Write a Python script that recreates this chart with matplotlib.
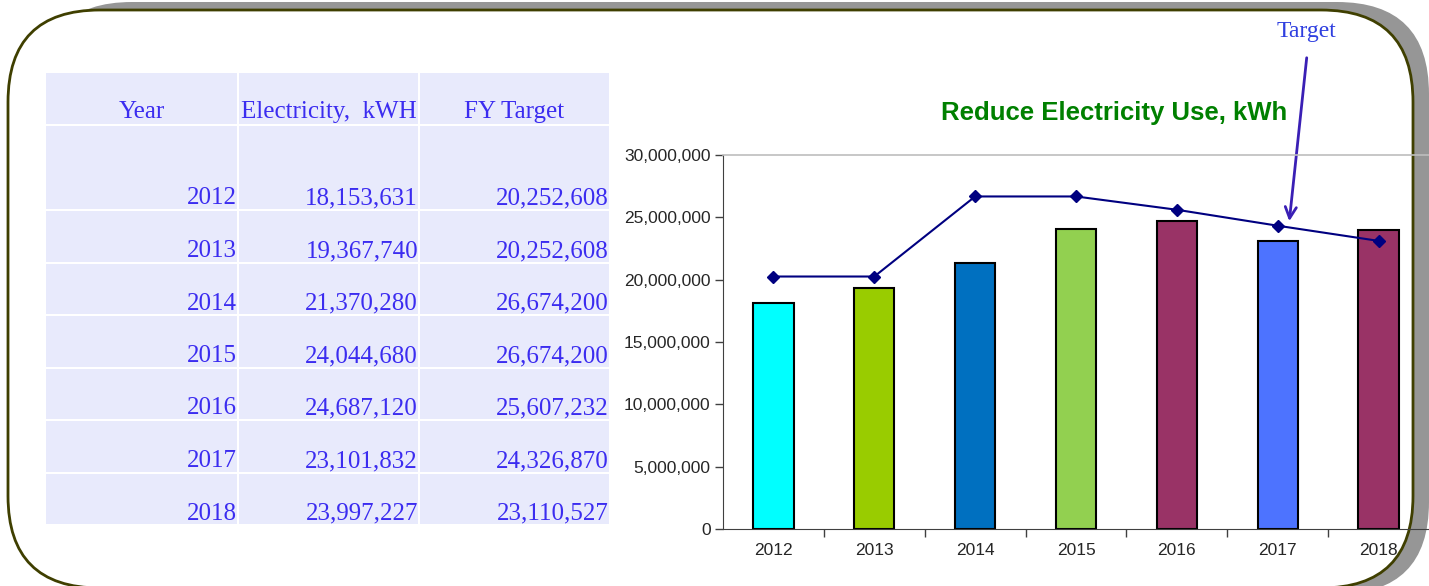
import matplotlib
matplotlib.use("Agg")
import matplotlib.pyplot as plt
from matplotlib.patches import FancyBboxPatch, Rectangle
from matplotlib.ticker import FuncFormatter, FixedLocator

# данные
years = ["2012", "2013", "2014", "2015", "2016", "2017", "2018"]
electricity = [18153631, 19367740, 21370280, 24044680, 24687120, 23101832, 23997227]
fy_target = [20252608, 20252608, 26674200, 26674200, 25607232, 24326870, 23110527]
headers = ["Year", "Electricity,  kWH", "FY Target"]
bar_colors = ["#00FFFF", "#99CC00", "#0070C0", "#92D050", "#993366", "#4D73FF", "#993366"]

W, H = 1429, 586
fig = plt.figure(figsize=(W / 100, H / 100), dpi=100)

# фоновая ось в пикселях: рамка и таблица
bg = fig.add_axes([0, 0, 1, 1])
bg.set_xlim(0, W)
bg.set_ylim(H, 0)
bg.axis("off")

shadow = FancyBboxPatch((40, 2), 1389, 592, boxstyle="round,pad=0,rounding_size=92",
                        fc="#969696", ec="none", zorder=1)
frame = FancyBboxPatch((8, 10), 1405, 578, boxstyle="round,pad=0,rounding_size=92",
                       fc="white", ec="#3f3f00", lw=2, zorder=2)
bg.add_patch(shadow)
bg.add_patch(frame)

# таблица
cell_bg = "#E8EAFC"
txt_col = "#3B2CF0"
col_edges = [46, 238, 419, 610]
header_top, header_bot = 73, 124
first_top, first_bot = 126, 209
row_step, row_h = 52.5, 50.5

def row_bounds(i):
    if i == 0:
        return first_top, first_bot
    top = first_bot + 2 + (i - 1) * row_step
    return top, top + row_h

for c in range(3):
    x0 = col_edges[c] + (1 if c > 0 else 0)
    x1 = col_edges[c + 1] - 1
    bg.add_patch(Rectangle((x0, header_top), x1 - x0, header_bot - header_top,
                           fc=cell_bg, ec="none", zorder=3))
    bg.text((x0 + x1) / 2, header_bot - 6, headers[c], ha="center", va="baseline",
            fontsize=18, family="Liberation Serif", color=txt_col, zorder=4)
    for i in range(len(years)):
        top, bot = row_bounds(i)
        bg.add_patch(Rectangle((x0, top), x1 - x0, bot - top, fc=cell_bg, ec="none", zorder=3))
        if c == 0:
            s = years[i]
        elif c == 1:
            s = f"{electricity[i]:,}"
        else:
            s = f"{fy_target[i]:,}"
        bg.text(x1, bot - 4.5, s, ha="right", va="baseline", fontsize=18,
                family="Liberation Serif", color=txt_col, zorder=4)

# график
ax = fig.add_axes([723 / W, (H - 529) / H, (W - 723) / W, (529 - 155) / H])
ax.patch.set_alpha(0)
x = list(range(len(years)))
ax.bar(x, electricity, width=0.4, color=bar_colors, edgecolor="black", linewidth=1.5, zorder=2)
ax.plot(x, fy_target, color="#000080", lw=1.5, marker="D", markersize=6, zorder=3)

ax.set_xlim(-0.5, len(years) - 0.5)
ax.set_ylim(0, 30000000)
ax.set_yticks(range(0, 30000001, 5000000))
ax.yaxis.set_major_formatter(FuncFormatter(lambda v, p: f"{int(v):,}"))
ax.set_xticks(x)
ax.set_xticklabels(years)
ax.xaxis.set_minor_locator(FixedLocator([i + 0.5 for i in range(len(years) - 1)]))
ax.tick_params(axis="x", which="major", length=0, pad=10, labelsize=12.5, labelcolor="#262626")
ax.tick_params(axis="x", which="minor", length=6, width=1, color="#404040", direction="out")
ax.tick_params(axis="y", length=6, width=1, color="#404040", labelsize=12.5, labelcolor="#262626", pad=3)
for lab in ax.get_xticklabels() + ax.get_yticklabels():
    lab.set_family("Liberation Sans")

ax.spines["right"].set_visible(False)
ax.spines["top"].set_color("#bdbdbd")
ax.spines["top"].set_linewidth(1.2)
ax.spines["left"].set_color("#404040")
ax.spines["bottom"].set_color("#404040")

fig.text(1114 / W, 1 - 113 / H, "Reduce Electricity Use, kWh", ha="center", va="center",
         fontsize=18.5, fontweight="bold", family="Liberation Sans", color="#008000")

# подпись Target со стрелкой
bg.annotate("", xy=(1289, 224), xytext=(1307, 55),
            arrowprops=dict(arrowstyle="->,head_length=0.8,head_width=0.4", color="#3A1FB5", lw=2),
            zorder=6)
bg.text(1306, 32, "Target", ha="center", va="center", fontsize=17,
        family="Liberation Serif", color="#2F3FE0", zorder=6)

fig.savefig("out.png", dpi=100)
